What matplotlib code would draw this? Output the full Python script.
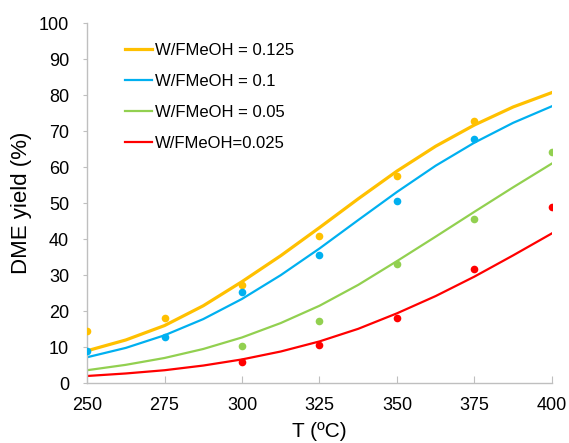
import matplotlib.pyplot as plt

plt.rcParams['font.family'] = ['Liberation Sans', 'DejaVu Sans']

# Experimental points
t_exp = [250, 275, 300, 325, 350, 375, 400]
y_0125 = [14.6, 18.0, 27.4, 40.8, 57.4, 72.8, None]
y_01 = [9.0, 12.7, 25.2, 35.5, 50.6, 67.7, None]
y_005 = [None, None, 10.4, 17.2, 33.2, 45.7, 64.3]
y_0025 = [None, None, 5.9, 10.7, 18.1, 31.8, 48.9]

# Model curves
t_fit = [250, 262.5, 275, 287.5, 300, 312.5, 325, 337.5, 350, 362.5, 375, 387.5, 400]
fit_0125 = [9.0, 12.0, 16.0, 21.5, 28.2, 35.4, 43.2, 51.2, 58.9, 65.8, 71.7, 76.7, 80.7]
fit_01 = [7.2, 9.8, 13.3, 17.8, 23.4, 30.0, 37.4, 45.3, 53.1, 60.4, 66.8, 72.3, 76.9]
fit_005 = [3.6, 5.1, 7.0, 9.5, 12.7, 16.7, 21.5, 27.3, 33.9, 40.7, 47.6, 54.4, 61.0]
fit_0025 = [2.0, 2.7, 3.6, 4.9, 6.6, 8.8, 11.6, 15.1, 19.4, 24.2, 29.6, 35.5, 41.6]

labels = ['W/FMeOH = 0.125', 'W/FMeOH = 0.1', 'W/FMeOH = 0.05', 'W/FMeOH=0.025']
colors = ['#FFC000', '#00B0F0', '#92D050', '#FF0000']
widths = [2.3, 1.6, 1.6, 1.6]

fig = plt.figure(figsize=(5.69, 4.43), dpi=100)
ax = fig.add_axes([0.153, 0.135, 0.817, 0.813])

for fit, pts, lab, c, lw in zip([fit_0125, fit_01, fit_005, fit_0025],
                                [y_0125, y_01, y_005, y_0025],
                                labels, colors, widths):
    ax.plot(t_fit, fit, color=c, lw=lw, label=lab, zorder=2,
            solid_joinstyle='round')
    xs = [t for t, v in zip(t_exp, pts) if v is not None]
    ys = [v for v in pts if v is not None]
    ax.plot(xs, ys, 'o', color=c, ms=5.5, mec='none', zorder=3)

ax.set_xlim(250, 400)
ax.set_ylim(0, 100)
ax.set_xticks(range(250, 401, 25))
ax.set_yticks(range(0, 101, 10))
ax.tick_params(axis='x', direction='in', length=5, color='#bfbfbf', labelsize=13, pad=10)
ax.tick_params(axis='y', direction='out', length=3, color='#bfbfbf', labelsize=13, pad=10)

for s in ['top', 'right']:
    ax.spines[s].set_visible(False)
for s in ['left', 'bottom']:
    ax.spines[s].set_color('#bfbfbf')
    ax.spines[s].set_linewidth(1)

ax.set_xlabel('T (ºC)', fontsize=15, labelpad=6)
ax.set_ylabel('DME yield (%)', fontsize=16, labelpad=5)

ax.legend(loc='upper left', bbox_to_anchor=(0.067, 0.963), frameon=False,
          fontsize=12, handlelength=1.62, handletextpad=0.18, labelspacing=0.95,
          borderaxespad=0)

fig.savefig('out.png', dpi=100)
